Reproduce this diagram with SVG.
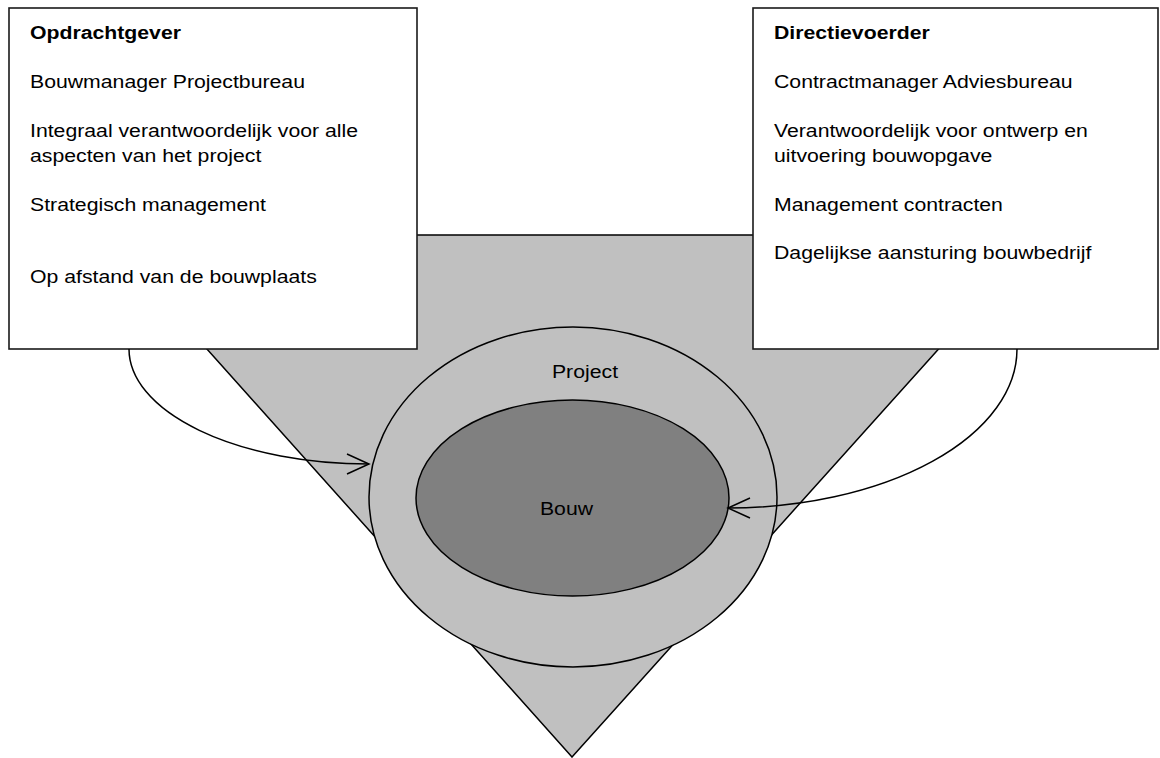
<svg xmlns="http://www.w3.org/2000/svg" width="1160" height="758" viewBox="0 0 1160 758">
<defs>
<style>
.t{font-family:"Liberation Sans",Arial,sans-serif;font-size:18.5px;fill:#000}
.b{font-weight:bold}
.box{fill:#fff;stroke:#1a1a1a;stroke-width:1.6}
.ln{fill:none;stroke:#000;stroke-width:1.5}
</style>
<marker id="arr" markerUnits="userSpaceOnUse" markerWidth="30" markerHeight="30" refX="25" refY="12" orient="auto" overflow="visible">
<path d="M3,2 L25,12 L3,22" fill="none" stroke="#000" stroke-width="1.5"/>
</marker>
</defs>
<rect width="1160" height="758" fill="#fff"/>
<g id="triangle">
<polygon points="105,235 1041,235 572,757" fill="#c0c0c0" stroke="#000" stroke-width="1.5"/>
</g>
<g id="opdrachtgever">
<rect class="box" x="9" y="8" width="408" height="341"/>
<g transform="translate(30,0) scale(1.148,1)">
<text class="t b" x="0" y="39">Opdrachtgever</text>
<text class="t" x="0" y="88">Bouwmanager Projectbureau</text>
<text class="t" x="0" y="137">Integraal verantwoordelijk voor alle</text>
<text class="t" x="0" y="162">aspecten van het project</text>
<text class="t" x="0" y="211">Strategisch management</text>
<text class="t" x="0" y="283">Op afstand van de bouwplaats</text>
</g>
</g>
<g id="directievoerder">
<rect class="box" x="753" y="8" width="405" height="341"/>
<g transform="translate(774,0) scale(1.148,1)">
<text class="t b" x="0" y="39">Directievoerder</text>
<text class="t" x="0" y="88">Contractmanager Adviesbureau</text>
<text class="t" x="0" y="137">Verantwoordelijk voor ontwerp en</text>
<text class="t" x="0" y="162">uitvoering bouwopgave</text>
<text class="t" x="0" y="211">Management contracten</text>
<text class="t" x="0" y="259">Dagelijkse aansturing bouwbedrijf</text>
</g>
</g>
<g id="project">
<ellipse cx="573" cy="497" rx="204" ry="170" fill="#c0c0c0" stroke="#000" stroke-width="1.5"/>
<g transform="translate(585,0) scale(1.148,1)">
<text class="t" x="0" y="378" text-anchor="middle">Project</text>
</g>
</g>
<g id="bouw">
<ellipse cx="572.5" cy="498" rx="156.5" ry="98" fill="#808080" stroke="#000" stroke-width="1.5"/>
<g transform="translate(566.5,0) scale(1.148,1)">
<text class="t" x="0" y="515" text-anchor="middle">Bouw</text>
</g>
</g>
<g id="connectors">
<path class="ln" d="M129,349 A240,115 0 0 0 369,464" marker-end="url(#arr)"/>
<path class="ln" d="M1017,349 A289,159 0 0 1 728,508" marker-end="url(#arr)"/>
</g>
</svg>
